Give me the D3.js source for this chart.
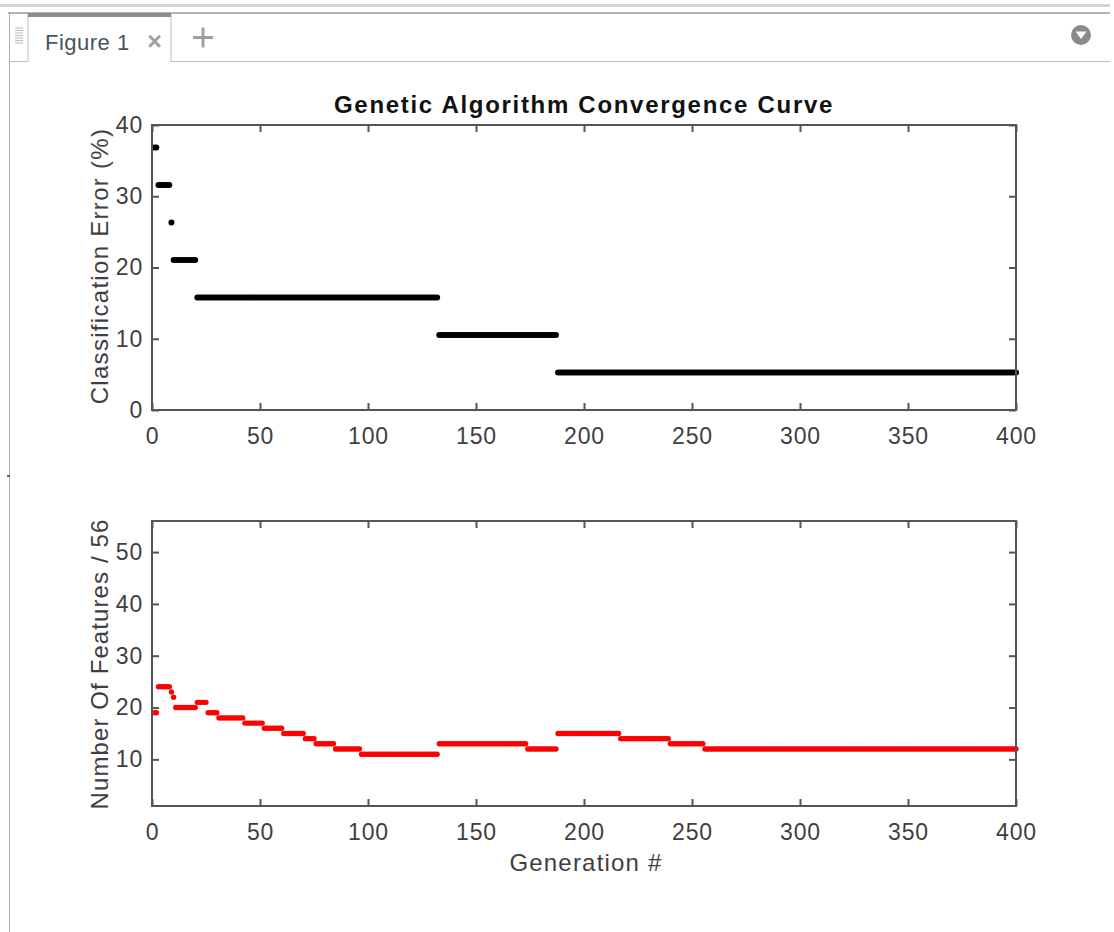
<!DOCTYPE html>
<html>
<head>
<meta charset="utf-8">
<script src="https://cdn.jsdelivr.net/npm/d3@7"></script>
<style>
  body { margin: 0; background: #fff; }
  svg { display: block; font-family: "Liberation Sans", Arial, sans-serif; }
</style>
</head>
<body>
<script>
// ----- DATA -----
// each run: last generation of the run, and the value held during it
const errorRunEnds = [2, 8, 9, 20, 132, 187, 400];
const errorValues = [36.84, 31.58, 26.32, 21.05, 15.79, 10.53, 5.26];

const featureRunEnds = [2, 8, 9, 10, 20, 25, 30, 42, 51, 60, 70, 75, 84, 96, 132, 173, 187, 216, 239, 255, 400];
const featureValues = [19, 24, 23, 22, 20, 21, 19, 18, 17, 16, 15, 14, 13, 12, 11, 13, 12, 15, 14, 13, 12];

const genTicks = [0, 50, 100, 150, 200, 250, 300, 350, 400];
const errorTicks = [0, 10, 20, 30, 40];
const featureTicks = [10, 20, 30, 40, 50];
const featureTotal = 56;

// one point per generation from the run lists
function expandRuns(ends, values) {
  const pts = [];
  let start = 1;
  ends.forEach((end, i) => {
    for (let g = start; g <= end; g++) pts.push({ gen: g, value: values[i] });
    start = end + 1;
  });
  return pts;
}

const w = 1114, h = 932;
const axisColor = "#555";
const textColor = "#404040";

const svg = d3.select("body").append("svg")
  .attr("width", w)
  .attr("height", h);

// ----- WINDOW CHROME -----
svg.append("rect").attr("x", 0).attr("y", 4).attr("width", 1110).attr("height", 3).attr("fill", "#d4d4d4");
svg.append("line").attr("x1", 8).attr("x2", 1110).attr("y1", 13).attr("y2", 13).attr("stroke", "#9a9a9a").attr("stroke-width", 1.5);
// left border
svg.append("line").attr("x1", 9.5).attr("x2", 9.5).attr("y1", 13).attr("y2", h).attr("stroke", "#b0b0b0").attr("stroke-width", 1);
svg.append("line").attr("x1", 7).attr("x2", 10).attr("y1", 476).attr("y2", 476).attr("stroke", "#333").attr("stroke-width", 1.5);
// bottom line of the tab strip
svg.append("line").attr("x1", 9).attr("x2", 28).attr("y1", 61.5).attr("y2", 61.5).attr("stroke", "#c0c0c0");
svg.append("line").attr("x1", 171).attr("x2", 1110).attr("y1", 61.5).attr("y2", 61.5).attr("stroke", "#c0c0c0");
// grip
for (let y = 28; y <= 45; y += 2.5) {
  svg.append("line").attr("x1", 15).attr("x2", 23).attr("y1", y).attr("y2", y).attr("stroke", "#bdbdbd").attr("stroke-width", 1);
}
// active tab
svg.append("line").attr("x1", 28).attr("x2", 28).attr("y1", 14).attr("y2", 62).attr("stroke", "#c0c0c0");
svg.append("line").attr("x1", 171).attr("x2", 171).attr("y1", 14).attr("y2", 62).attr("stroke", "#c0c0c0");
svg.append("rect").attr("x", 28).attr("y", 13).attr("width", 143).attr("height", 4).attr("fill", "#8c8c8c");
svg.append("text").attr("x", 45).attr("y", 50).attr("font-size", 22).attr("fill", "#465463")
  .attr("letter-spacing", 0.5).text("Figure 1");
svg.append("text").attr("x", 154.5).attr("y", 50).attr("font-size", 25).attr("font-weight", "bold")
  .attr("text-anchor", "middle").attr("fill", "#a0a0a0").text("×");
// plus
svg.append("line").attr("x1", 193).attr("x2", 213).attr("y1", 37.5).attr("y2", 37.5).attr("stroke", "#a0a0a0").attr("stroke-width", 3);
svg.append("line").attr("x1", 203).attr("x2", 203).attr("y1", 27.5).attr("y2", 47.5).attr("stroke", "#a0a0a0").attr("stroke-width", 3);
// drop-down button
svg.append("circle").attr("cx", 1081).attr("cy", 35).attr("r", 10).attr("fill", "#8a8a8a");
svg.append("path").attr("d", "M1075.5,31.5 L1086.5,31.5 L1081,39 Z").attr("fill", "#fff");

// ----- SCALES -----
const xScale = d3.scaleLinear().domain([0, 400]).range([152, 1016]);
const yError = d3.scaleLinear().domain([0, 40]).range([410, 125]);
const yFeature = d3.scaleLinear().domain([1, featureTotal]).range([806, 521]);

function drawPanel(yScale, yTicks, points, color, r) {
  const g = svg.append("g");
  const [x0, x1] = xScale.range();
  const [yb, yt] = yScale.range();

  // dots
  g.selectAll("circle.dot").data(points).enter().append("circle")
    .attr("class", "dot")
    .attr("cx", d => xScale(d.gen))
    .attr("cy", d => yScale(d.value))
    .attr("r", r)
    .attr("fill", color);

  const xAxis = d3.axisBottom(xScale).tickValues(genTicks).tickSizeInner(-7).tickSizeOuter(0).tickPadding(18);
  const xAxisTop = d3.axisTop(xScale).tickValues(genTicks).tickSizeInner(-7).tickSizeOuter(0).tickFormat("");
  const yAxis = d3.axisLeft(yScale).tickValues(yTicks).tickSizeInner(-7).tickSizeOuter(0).tickPadding(9);
  const yAxisRight = d3.axisRight(yScale).tickValues(yTicks).tickSizeInner(-7).tickSizeOuter(0).tickFormat("");

  const axes = [
    g.append("g").attr("transform", "translate(0," + yb + ")").call(xAxis),
    g.append("g").attr("transform", "translate(0," + yt + ")").call(xAxisTop),
    g.append("g").attr("transform", "translate(" + x0 + ",0)").call(yAxis),
    g.append("g").attr("transform", "translate(" + x1 + ",0)").call(yAxisRight)
  ];
  axes.forEach(a => {
    a.select(".domain").remove();
    a.selectAll(".tick line").attr("stroke", axisColor).attr("stroke-width", 2);
    a.selectAll(".tick text").attr("fill", textColor).attr("font-size", 23)
      .attr("font-family", "Liberation Sans, Arial, sans-serif").attr("letter-spacing", 0.8);
  });

  // box
  g.append("rect")
    .attr("x", x0).attr("y", yt)
    .attr("width", x1 - x0).attr("height", yb - yt)
    .attr("fill", "none")
    .attr("stroke", axisColor)
    .attr("stroke-width", 2);
  return g;
}

drawPanel(yError, errorTicks, expandRuns(errorRunEnds, errorValues), "#000", 3);
drawPanel(yFeature, featureTicks, expandRuns(featureRunEnds, featureValues), "#ff0000", 2.7);

// ----- TEXTS -----
svg.append("text")
  .attr("x", 584).attr("y", 113)
  .attr("text-anchor", "middle")
  .attr("font-size", 24).attr("font-weight", "bold")
  .attr("letter-spacing", 1.7)
  .attr("fill", "#111")
  .text("Genetic Algorithm Convergence Curve");

svg.append("text")
  .attr("transform", "translate(108,266) rotate(-90)")
  .attr("text-anchor", "middle")
  .attr("font-size", 24).attr("fill", textColor)
  .attr("letter-spacing", 1.3)
  .text("Classification Error (%)");

svg.append("text")
  .attr("transform", "translate(108,664) rotate(-90)")
  .attr("text-anchor", "middle")
  .attr("font-size", 24).attr("fill", textColor)
  .attr("letter-spacing", 1.1)
  .text("Number Of Features / " + featureTotal);

svg.append("text")
  .attr("x", 586).attr("y", 871)
  .attr("text-anchor", "middle")
  .attr("font-size", 24).attr("fill", textColor)
  .attr("letter-spacing", 1.2)
  .text("Generation #");
</script>
</body>
</html>
